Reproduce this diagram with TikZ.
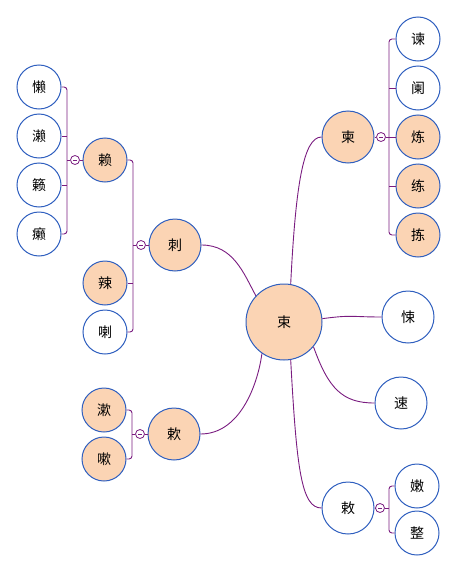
\documentclass[tikz,border=0pt]{standalone}
\usepackage{fontspec}
\newfontfamily\cjk{Noto Sans CJK SC}
\usetikzlibrary{calc}
\definecolor{conncol}{HTML}{7A1C80}
\definecolor{bordercol}{HTML}{2F5FBF}
\definecolor{peach}{HTML}{FBD4B4}
\tikzset{
  conn/.style={draw=conncol, line width=0.9pt},
  bub/.style={circle, draw=bordercol, line width=1pt, fill=white, inner sep=0pt, font=\cjk\fontsize{14}{14}\selectfont},
  hl/.style={fill=peach},
  big/.style={minimum size=76pt},
  mid/.style={minimum size=52pt},
  small/.style={minimum size=44pt},
  coll/.style={circle, draw=conncol, line width=0.8pt, fill=white, minimum size=9pt, inner sep=0pt,
    path picture={\draw[conncol, line width=0.6pt] ([xshift=-2pt]path picture bounding box.center) -- ([xshift=2pt]path picture bounding box.center);}},
}
\begin{document}
\begin{tikzpicture}[x=1pt, y=-1pt]
\useasboundingbox (0,0) rectangle (457,570);
% nodes
\node[bub, big, hl] (shu) at (284,322) {束};
\node[bub, mid, hl] (ci) at (175,245) {刺};
\node[bub, small, hl] (lai) at (105,160) {赖};
\node[bub, small] (lan) at (39,87) {懒};
\node[bub, small] (lai2) at (39,136) {濑};
\node[bub, small] (lai3) at (39,185) {籁};
\node[bub, small] (lai4) at (39,234) {癞};
\node[bub, small, hl] (la) at (105,283) {辣};
\node[bub, small] (la2) at (105,332) {喇};
\node[bub, mid, hl] (shuo) at (174,434) {欶};
\node[bub, small, hl] (shu2) at (104,410) {漱};
\node[bub, small, hl] (sou) at (104,459) {嗽};
\node[bub, mid, hl] (jian) at (348,137) {柬};
\node[bub, small] (jian2) at (418,39) {谏};
\node[bub, small] (lan2) at (418,88) {阑};
\node[bub, small, hl] (lian) at (418,137) {炼};
\node[bub, small, hl] (lian2) at (418,186) {练};
\node[bub, small, hl] (jian3) at (418,235) {拣};
\node[bub, mid] (song) at (408,317) {悚};
\node[bub, mid] (su) at (401,403) {速};
\node[bub, mid] (chi) at (348,508) {敕};
\node[bub, small] (nen) at (417,486) {嫩};
\node[bub, small] (zheng) at (417,533) {整};
% main curves
\draw[conn] (ci.east) .. controls +(32,0) and +(-12,-22) .. (shu.137);
\draw[conn] (shuo.east) .. controls +(40,0) and +(-4,30) .. (shu.235);
\draw[conn] (shu.80) .. controls +(5,-100) and +(-18,0) .. (jian.west);
\draw[conn] (shu.5) .. controls +(30,-4) and +(-30,0) .. (song.west);
\draw[conn] (shu.-40) .. controls +(15,42) and +(-32,0) .. (su.west);
\draw[conn] (shu.-80) .. controls +(6,110) and +(-20,0) .. (chi.west);
% brackets: lai
\node[coll] (c1) at (75,160) {};
\coordinate (b1) at (67,160);
\draw[conn, rounded corners=3pt] (lan.east) -| (b1) |- (lai4.east);
\draw[conn] (lai2.east) -- (b1 |- lai2.east);
\draw[conn] (lai3.east) -- (b1 |- lai3.east);
\draw[conn] (b1) -- (c1.west);
\draw[conn] (c1.east) -- (lai.west);
% brackets: ci
\node[coll] (c2) at (141,245) {};
\coordinate (b2) at (133,245);
\draw[conn, rounded corners=3pt] (lai.east) -| (b2) |- (la2.east);
\draw[conn] (la.east) -- (b2 |- la.east);
\draw[conn] (b2) -- (c2.west);
\draw[conn] (c2.east) -- (ci.west);
% brackets: shuo
\node[coll] (c3) at (140,434) {};
\coordinate (b3) at (132,434);
\draw[conn, rounded corners=3pt] (shu2.east) -| (b3) |- (sou.east);
\draw[conn] (b3) -- (c3.west);
\draw[conn] (c3.east) -- (shuo.west);
% brackets: jian
\node[coll] (c4) at (381,137) {};
\coordinate (b4) at (389,137);
\draw[conn, rounded corners=3pt] (jian2.west) -| (b4) |- (jian3.west);
\draw[conn] (lan2.west) -- (b4 |- lan2.west);
\draw[conn] (lian2.west) -- (b4 |- lian2.west);
\draw[conn] (b4) -- (lian.west);
\draw[conn] (jian.east) -- (c4.west);
\draw[conn] (c4.east) -- (b4);
% brackets: chi
\node[coll] (c5) at (380,508) {};
\coordinate (b5) at (389,508);
\draw[conn, rounded corners=3pt] (nen.west) -| (b5) |- (zheng.west);
\draw[conn] (chi.east) -- (c5.west);
\draw[conn] (c5.east) -- (b5);
\end{tikzpicture}
\end{document}
